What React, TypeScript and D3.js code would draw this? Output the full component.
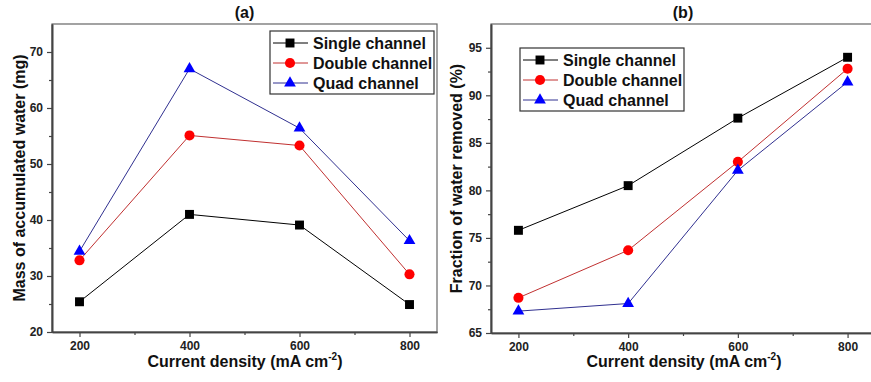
import { useEffect, useRef } from "react";
import * as d3 from "d3";

const densities = [200, 400, 600, 800];
const seriesNames = ["Single channel", "Double channel", "Quad channel"];

// panel (a): mass of accumulated water (mg)
const massSingle = [25.4, 41.0, 39.1, 24.9];
const massDouble = [32.8, 55.1, 53.3, 30.3];
const massQuad = [34.4, 67.0, 56.4, 36.3];

// panel (b): fraction of water removed (%)
const fracSingle = [75.8, 80.5, 87.6, 94.0];
const fracDouble = [68.7, 73.7, 83.0, 92.8];
const fracQuad = [67.3, 68.1, 82.1, 91.4];

const xTicks = [200, 400, 600, 800];
const xMinor = [300, 500, 700];
const massTicks = [20, 30, 40, 50, 60, 70];
const massMinor = [25, 35, 45, 55, 65, 75];
const fracTicks = [65, 70, 75, 80, 85, 90, 95];
const fracMinor = [67.5, 72.5, 77.5, 82.5, 87.5, 92.5, 97.5];

const lineColors = ["#000000", "#c03030", "#303090"];
const markColors = ["#000000", "#ff0000", "#0000ff"];
const symbols = [d3.symbolSquare, d3.symbolCircle, d3.symbolTriangle];
const symSizes = [80, 80, 60];

const FONT = "'Liberation Sans', Arial, sans-serif";
const AXIS = "#444";

function drawPanel(svg, cfg) {
  const { left, right, top, bottom, yDomain, yTicks, yMinor, series, title, yLabel, legend } = cfg;
  const x = d3.scaleLinear().domain([150, 850]).range([left, right]);
  const y = d3.scaleLinear().domain(yDomain).range([bottom, top]);
  const g = svg.append("g");

  // frame
  g.append("rect")
    .attr("x", left).attr("y", top)
    .attr("width", right - left).attr("height", bottom - top)
    .attr("fill", "none").attr("stroke", "#666").attr("stroke-width", 1.2);

  const xAxis = d3.axisBottom(x).tickValues(xTicks).tickSize(5).tickSizeOuter(0).tickPadding(4);
  const gx = g.append("g").attr("transform", `translate(0,${bottom})`).call(xAxis);
  g.append("g").attr("transform", `translate(0,${bottom})`)
    .call(d3.axisBottom(x).tickValues(xMinor).tickSize(3).tickSizeOuter(0).tickFormat(() => ""));

  const yAxis = d3.axisLeft(y).tickValues(yTicks).tickSize(5).tickSizeOuter(0).tickPadding(4);
  const gy = g.append("g").attr("transform", `translate(${left},0)`).call(yAxis);
  g.append("g").attr("transform", `translate(${left},0)`)
    .call(d3.axisLeft(y).tickValues(yMinor.filter(v => v < yDomain[1])).tickSize(3).tickSizeOuter(0).tickFormat(() => ""));

  g.selectAll(".domain").attr("stroke", AXIS).attr("stroke-width", 1.6);
  g.selectAll(".tick line").attr("stroke", AXIS).attr("stroke-width", 1.2);
  [gx, gy].forEach(a => a.selectAll("text")
    .attr("font-family", FONT).attr("font-weight", "bold").attr("font-size", 12).attr("fill", "#222"));

  const line = d3.line().x((d, i) => x(densities[i])).y(d => y(d));
  series.forEach((vals, s) => {
    g.append("path").attr("d", line(vals)).attr("fill", "none")
      .attr("stroke", lineColors[s]).attr("stroke-width", 1);
  });
  series.forEach((vals, s) => {
    g.selectAll(null).data(vals).join("path")
      .attr("d", d3.symbol().type(symbols[s]).size(symSizes[s]))
      .attr("transform", (d, i) => `translate(${x(densities[i])},${y(d)})`)
      .attr("fill", markColors[s]);
  });

  // titles
  g.append("text").attr("x", (left + right) / 2).attr("y", 18)
    .attr("text-anchor", "middle").attr("font-family", FONT).attr("font-weight", "bold")
    .attr("font-size", 16).attr("fill", "#111").text(title);

  const xl = g.append("text").attr("x", cfg.xLabelX).attr("y", 367)
    .attr("text-anchor", "middle").attr("font-family", FONT).attr("font-weight", "bold")
    .attr("font-size", 16).attr("fill", "#111");
  xl.append("tspan").text("Current density (mA cm");
  xl.append("tspan").attr("font-size", 10).attr("dy", -7).text("-2");
  xl.append("tspan").attr("dy", 7).text(")");

  g.append("text")
    .attr("transform", `translate(${cfg.yLabelX},${(top + bottom) / 2}) rotate(-90)`)
    .attr("text-anchor", "middle").attr("font-family", FONT).attr("font-weight", "bold")
    .attr("font-size", 16).attr("fill", "#111").text(yLabel);

  // legend
  const lg = g.append("g");
  lg.append("rect").attr("x", legend.x).attr("y", legend.y)
    .attr("width", legend.w).attr("height", legend.h)
    .attr("fill", "white").attr("stroke", "#333").attr("stroke-width", 1.2);
  seriesNames.forEach((name, s) => {
    const ry = legend.y + 12 + s * 20;
    lg.append("line").attr("x1", legend.x + 3).attr("x2", legend.x + 38)
      .attr("y1", ry).attr("y2", ry).attr("stroke", lineColors[s]).attr("stroke-width", 1);
    lg.append("path").attr("d", d3.symbol().type(symbols[s]).size(symSizes[s])())
      .attr("transform", `translate(${legend.x + 20},${ry})`).attr("fill", markColors[s]);
    lg.append("text").attr("x", legend.x + 43).attr("y", ry + 6)
      .attr("font-family", FONT).attr("font-weight", "bold").attr("font-size", 16)
      .attr("fill", "#111").text(name);
  });
}

export default function App() {
  const ref = useRef(null);
  useEffect(() => {
    const svg = d3.select(ref.current);
    svg.selectAll("*").remove();
    drawPanel(svg, {
      left: 52, right: 437, top: 24, bottom: 332,
      yDomain: [20, 75], yTicks: massTicks, yMinor: massMinor,
      series: [massSingle, massDouble, massQuad],
      title: "(a)", yLabel: "Mass of accumulated water (mg)",
      xLabelX: 245, yLabelX: 25,
      legend: { x: 270, y: 31, w: 164, h: 63 },
    });
    drawPanel(svg, {
      left: 491, right: 875, top: 24, bottom: 333,
      yDomain: [65, 97.5], yTicks: fracTicks, yMinor: fracMinor,
      series: [fracSingle, fracDouble, fracQuad],
      title: "(b)", yLabel: "Fraction of water removed (%)",
      xLabelX: 684, yLabelX: 462,
      legend: { x: 520, y: 48, w: 164, h: 63 },
    });
  }, []);
  return (
    <svg ref={ref} width={871} height={382}
      style={{ position: "absolute", left: 0, top: 0, background: "white" }} />
  );
}
